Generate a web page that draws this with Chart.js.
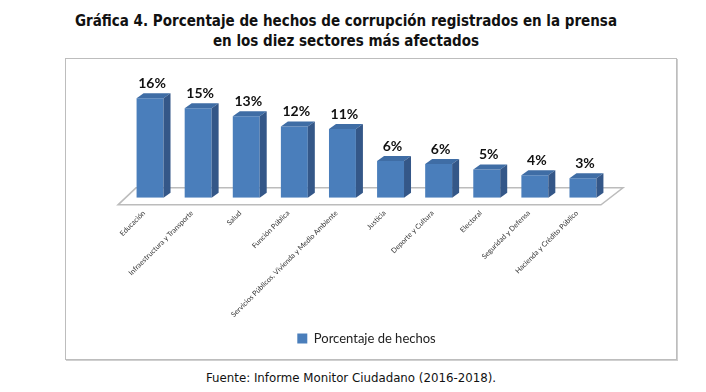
<!DOCTYPE html>
<html>
<head>
<meta charset="utf-8">
<script src="https://cdn.jsdelivr.net/npm/chart.js@4.4.0/dist/chart.umd.min.js"></script>
<style>
    body { margin: 0; width: 706px; height: 392px; background: #fff; position: relative; overflow: hidden; }
    #title { position: absolute; top: 11px; left: 0; width: 692px; text-align: center;
        font: bold 15px 'DejaVu Sans Condensed', 'DejaVu Sans', sans-serif; line-height: 20px; color: #111; }
    #box { position: absolute; left: 65px; top: 58px; width: 610px; height: 300px;
        border: 1px solid #bdbdbd; box-shadow: 1px 1px 0 #cfcfcf; }
    #footer { position: absolute; top: 371px; left: 0; width: 702px; text-align: center;
        font: 11.8px 'DejaVu Sans', sans-serif; color: #111; }
</style>
</head>
<body>
<div id="title">Gráfica 4. Porcentaje de hechos de corrupción registrados en la prensa<br>en los diez sectores más afectados</div>
<div id="box"><canvas id="sectorChart" width="610" height="300"></canvas></div>
<div id="footer">Fuente: Informe Monitor Ciudadano (2016-2018).</div>
<script>
const sectors = [
    'Educación',
    'Infraestructura y Transporte',
    'Salud',
    'Función Pública',
    'Servicios Públicos, Vivienda y Medio Ambiente',
    'Justicia',
    'Deporte y Cultura',
    'Electoral',
    'Seguridad y Defensa',
    'Hacienda y Crédito Público'
];
const percentages = [16.2, 14.6, 13.3, 11.6, 11.2, 6.0, 5.5, 4.6, 3.7, 3.2];
const percentLabels = ['16%', '15%', '13%', '12%', '11%', '6%', '6%', '5%', '4%', '3%'];

const DX = 7, DY = 5;

const bar3d = {
    id: 'bar3d',
    beforeDatasetsDraw(chart) {
        const {ctx, chartArea} = chart;
        const base = chart.scales.y.getPixelForValue(0);
        // floor
        ctx.save();
        ctx.beginPath();
        ctx.moveTo(chartArea.left - 8, base + 7);
        ctx.lineTo(chartArea.right - 6, base + 7);
        ctx.lineTo(chartArea.right + 16, base - 10);
        ctx.lineTo(chartArea.left + 10, base - 10);
        ctx.closePath();
        ctx.fillStyle = '#ffffff';
        ctx.fill();
        ctx.strokeStyle = '#bcbcbc';
        ctx.lineWidth = 1.5;
        ctx.stroke();
        ctx.restore();
    },
    afterDatasetsDraw(chart) {
        const {ctx} = chart;
        const meta = chart.getDatasetMeta(0);
        ctx.save();
        meta.data.forEach((bar, i) => {
            const left = bar.x - bar.width / 2;
            const right = bar.x + bar.width / 2;
            const top = bar.y;
            const bottom = bar.base;
            // top face
            ctx.beginPath();
            ctx.moveTo(left, top);
            ctx.lineTo(left + DX, top - DY);
            ctx.lineTo(right + DX, top - DY);
            ctx.lineTo(right, top);
            ctx.closePath();
            ctx.fillStyle = '#3f6da5';
            ctx.fill();
            // side face
            ctx.beginPath();
            ctx.moveTo(right, top);
            ctx.lineTo(right + DX, top - DY);
            ctx.lineTo(right + DX, bottom - DY);
            ctx.lineTo(right, bottom);
            ctx.closePath();
            ctx.fillStyle = '#345788';
            ctx.fill();
            // value label
            ctx.fillStyle = '#111';
            ctx.font = 'bold 14px Lato, sans-serif';
            ctx.textAlign = 'center';
            ctx.textBaseline = 'bottom';
            ctx.fillText(percentLabels[i], bar.x + 2, top - DY - 3);
        });
        ctx.restore();
    }
};

new Chart(document.getElementById('sectorChart'), {
    type: 'bar',
    data: {
        labels: sectors,
        datasets: [{
            label: 'Porcentaje de hechos',
            data: percentages,
            backgroundColor: '#4a7ebb',
            borderWidth: 0,
            barPercentage: 0.56,
            categoryPercentage: 1
        }]
    },
    options: {
        responsive: false,
        animation: false,
        layout: {padding: {top: 16, left: 60, right: 69, bottom: 4}},
        scales: {
            x: {
                grid: {display: false},
                border: {display: false},
                ticks: {
                    minRotation: 45,
                    maxRotation: 45,
                    color: '#333',
                    padding: 3,
                    labelOffset: -6,
                    font: {family: 'Lato', size: 7.2}
                }
            },
            y: {
                display: false,
                min: 0,
                max: 20
            }
        },
        plugins: {
            legend: {
                position: 'bottom',
                labels: {
                    boxWidth: 10,
                    boxHeight: 10,
                    padding: 10,
                    color: '#222',
                    font: {family: 'Lato', size: 13}
                }
            },
            tooltip: {enabled: false}
        }
    },
    plugins: [bar3d]
});
</script>
</body>
</html>
